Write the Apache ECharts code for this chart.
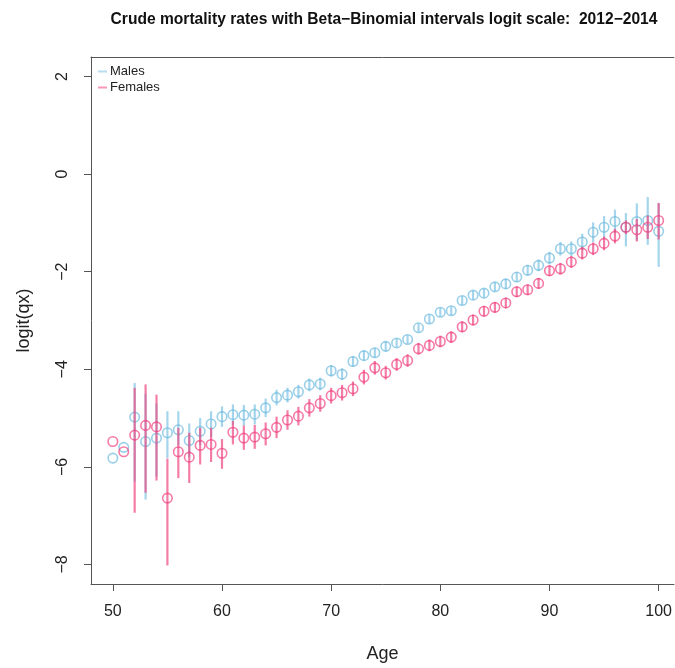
<!DOCTYPE html>
<html>
<head>
<meta charset="utf-8">
<script src="https://cdn.jsdelivr.net/npm/echarts@6/dist/echarts.min.js"></script>
<style>
html,body{margin:0;padding:0;background:#fff;}
#chart{width:675px;height:668px;}
</style>
</head>
<body>
<div id="chart"></div>
<script>
const ages = [50,51,52,53,54,55,56,57,58,59,60,61,62,63,64,65,66,67,68,69,70,71,72,73,74,75,76,77,78,79,80,81,82,83,84,85,86,87,88,89,90,91,92,93,94,95,96,97,98,99,100];
const xTicks = [50,60,70,80,90,100];
const yTicks = [-8,-6,-4,-2,0,2];

const malesQx = [-5.82,-5.60,-4.98,-5.48,-5.41,-5.30,-5.24,-5.46,-5.27,-5.12,-4.97,-4.93,-4.94,-4.92,-4.79,-4.58,-4.53,-4.46,-4.32,-4.30,-4.03,-4.10,-3.84,-3.72,-3.66,-3.53,-3.46,-3.39,-3.15,-2.97,-2.83,-2.80,-2.59,-2.48,-2.44,-2.31,-2.25,-2.11,-1.97,-1.87,-1.72,-1.53,-1.53,-1.39,-1.19,-1.09,-0.97,-1.09,-0.97,-0.95,-1.17];
const malesLower = [null,null,-6.30,-6.67,-6.20,-5.82,-5.55,-5.80,-5.55,-5.39,-5.18,-5.14,-5.15,-5.13,-4.98,-4.74,-4.68,-4.60,-4.45,-4.43,-4.15,-4.22,-3.95,-3.82,-3.76,-3.63,-3.55,-3.48,-3.24,-3.06,-2.92,-2.89,-2.68,-2.57,-2.53,-2.40,-2.35,-2.21,-2.08,-1.99,-1.85,-1.67,-1.68,-1.56,-1.39,-1.32,-1.21,-1.48,-1.36,-1.45,-1.90];
const malesUpper = [null,null,-4.28,-4.50,-4.70,-4.86,-4.86,-5.11,-5.00,-4.86,-4.76,-4.72,-4.73,-4.72,-4.60,-4.42,-4.38,-4.32,-4.19,-4.17,-3.91,-3.98,-3.73,-3.62,-3.56,-3.43,-3.37,-3.30,-3.06,-2.88,-2.74,-2.71,-2.50,-2.39,-2.35,-2.22,-2.15,-2.01,-1.86,-1.75,-1.59,-1.39,-1.38,-1.22,-0.99,-0.86,-0.73,-0.80,-0.60,-0.47,-0.60];

const femalesQx = [-5.48,-5.69,-5.35,-5.15,-5.18,-6.64,-5.69,-5.80,-5.56,-5.54,-5.72,-5.29,-5.41,-5.39,-5.32,-5.19,-5.04,-4.96,-4.79,-4.70,-4.54,-4.48,-4.40,-4.16,-3.97,-4.07,-3.90,-3.82,-3.58,-3.51,-3.43,-3.34,-3.13,-2.99,-2.81,-2.73,-2.64,-2.41,-2.37,-2.24,-1.98,-1.94,-1.80,-1.62,-1.53,-1.42,-1.27,-1.09,-1.14,-1.09,-0.95];
const femalesLower = [null,null,-6.94,-6.53,-6.28,-8.02,-6.23,-6.33,-5.95,-5.90,-6.04,-5.54,-5.65,-5.63,-5.56,-5.41,-5.24,-5.15,-4.97,-4.87,-4.70,-4.64,-4.55,-4.31,-4.11,-4.21,-4.03,-3.95,-3.70,-3.63,-3.55,-3.46,-3.24,-3.10,-2.92,-2.84,-2.75,-2.52,-2.48,-2.35,-2.09,-2.06,-1.92,-1.75,-1.66,-1.56,-1.42,-1.23,-1.38,-1.33,-1.34];
const femalesUpper = [null,null,-4.38,-4.31,-4.52,-5.83,-5.20,-5.30,-5.20,-5.20,-5.43,-5.06,-5.15,-5.14,-5.09,-4.97,-4.84,-4.77,-4.61,-4.53,-4.38,-4.32,-4.25,-4.01,-3.83,-3.93,-3.77,-3.69,-3.46,-3.39,-3.31,-3.22,-3.02,-2.88,-2.70,-2.62,-2.53,-2.30,-2.26,-2.13,-1.87,-1.82,-1.68,-1.49,-1.40,-1.28,-1.12,-0.95,-0.92,-0.85,-0.59];

const BLUE = 'rgba(105,185,222,0.85)';
const BLUE_BAR = 'rgba(125,195,228,0.7)';
const PINK = 'rgba(240,60,125,0.85)';
const PINK_BAR = 'rgba(240,70,130,0.7)';
const FONT = 'Liberation Sans, Arial, sans-serif';
const AXIS_COLOR = '#555';

function barData(lo, hi) {
  const out = [];
  ages.forEach((a, i) => { if (lo[i] !== null && hi[i] !== null) out.push([a, lo[i], hi[i]]); });
  return out;
}
function pointData(v) { return ages.map((a, i) => [a, v[i]]); }

function barRender(color) {
  return function (params, api) {
    const p1 = api.coord([api.value(0), api.value(1)]);
    const p2 = api.coord([api.value(0), api.value(2)]);
    return {
      type: 'line',
      shape: { x1: p1[0], y1: p1[1], x2: p2[0], y2: p2[1] },
      style: { stroke: color, lineWidth: 2.2 }
    };
  };
}

const chart = echarts.init(document.getElementById('chart'), null, { renderer: 'canvas' });
const minus = v => String(v).replace('-', '\u2212');

chart.setOption({
  animation: false,
  backgroundColor: '#fff',
  title: {
    text: 'Crude mortality rates with Beta\u2212Binomial intervals logit scale:  2012\u22122014',
    left: 379, top: 7, textAlign: 'center',
    textStyle: { fontFamily: FONT, fontSize: 15.6, fontWeight: 'bold', color: '#111' }
  },
  legend: {
    orient: 'vertical', left: 93, top: 60, itemGap: 3,
    itemWidth: 9, itemHeight: 2, icon: 'rect',
    textStyle: { fontFamily: FONT, fontSize: 13, color: '#222', padding: [0, 0, 0, -2] },
    data: [
      { name: 'Males', itemStyle: { color: BLUE_BAR, borderWidth: 0 } },
      { name: 'Females', itemStyle: { color: PINK_BAR, borderWidth: 0 } }
    ]
  },
  grid: { left: 91, top: 57, right: 0, bottom: 82, show: false },
  xAxis: [{
    type: 'value', min: 48, max: 101.4,
    name: 'Age', nameLocation: 'middle', nameGap: 61,
    nameTextStyle: { fontFamily: FONT, fontSize: 18, color: '#222' },
    axisLine: { show: true, onZero: false, lineStyle: { color: AXIS_COLOR, width: 1 } },
    splitLine: { show: false },
    axisTick: { show: true, length: 7, lineStyle: { color: AXIS_COLOR }, customValues: xTicks },
    axisLabel: { fontFamily: FONT, fontSize: 16, color: '#222', margin: 20, customValues: xTicks, showMinLabel: true, showMaxLabel: true }
  }, {
    type: 'value', min: 48, max: 101.4, position: 'top',
    axisLine: { show: true, onZero: false, lineStyle: { color: AXIS_COLOR, width: 1 } },
    axisTick: { show: false }, axisLabel: { show: false }, splitLine: { show: false }
  }],
  yAxis: {
    type: 'value', min: -8.4, max: 2.4,
    name: 'logit(qx)', nameLocation: 'middle', nameGap: 58, nameRotate: 90,
    nameTextStyle: { fontFamily: FONT, fontSize: 18, color: '#222' },
    axisLine: { show: true, onZero: false, lineStyle: { color: AXIS_COLOR, width: 1 } },
    splitLine: { show: false },
    axisTick: { show: true, length: 7, lineStyle: { color: AXIS_COLOR }, customValues: yTicks },
    axisLabel: { fontFamily: FONT, fontSize: 16, color: '#222', margin: 20, rotate: 90, customValues: yTicks, formatter: minus }
  },
  series: [
    { name: 'MalesBars', type: 'custom', renderItem: barRender(BLUE_BAR), data: barData(malesLower, malesUpper), encode: { x: 0, y: [1, 2] }, z: 2, silent: true },
    { name: 'Males', type: 'scatter', data: pointData(malesQx), symbol: 'circle', symbolSize: 9.5,
      itemStyle: { color: 'rgba(0,0,0,0)', borderColor: BLUE, borderWidth: 1.6 }, z: 3 },
    { name: 'FemalesBars', type: 'custom', renderItem: barRender(PINK_BAR), data: barData(femalesLower, femalesUpper), encode: { x: 0, y: [1, 2] }, z: 4, silent: true },
    { name: 'Females', type: 'scatter', data: pointData(femalesQx), symbol: 'circle', symbolSize: 9.5,
      itemStyle: { color: 'rgba(0,0,0,0)', borderColor: PINK, borderWidth: 1.6 }, z: 5 }
  ]
});
</script>
</body>
</html>
